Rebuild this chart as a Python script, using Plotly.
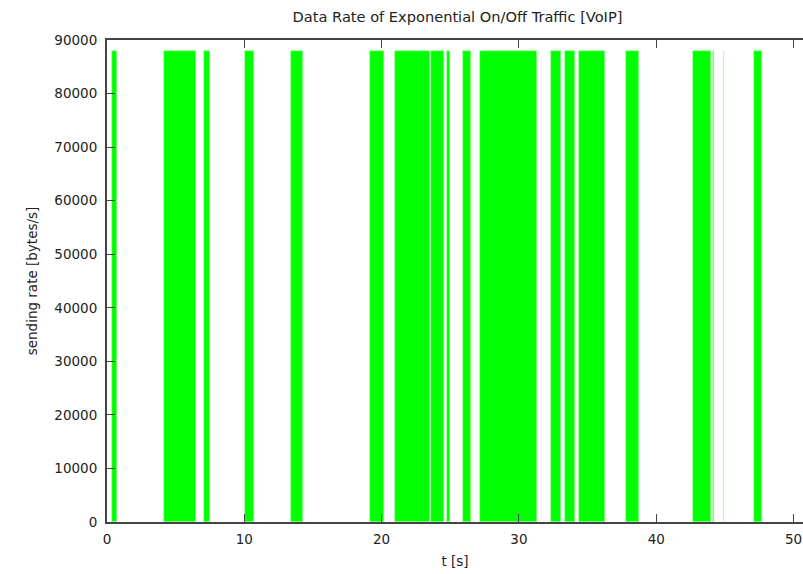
import plotly.graph_objects as go

# On-periods of the traffic source (seconds)
on_start = [0.34, 4.17, 7.09, 10.05, 13.42, 19.18, 21.0, 23.6, 24.78, 25.93,
            27.17, 32.32, 33.33, 34.35, 37.8, 42.7, 44.15, 44.93, 47.15]
on_end = [0.75, 6.48, 7.52, 10.71, 14.25, 20.19, 23.52, 24.52, 24.98, 26.48,
          31.35, 33.04, 34.06, 36.24, 38.77, 43.99, 44.18, 44.96, 47.73]
rate_on = 88000  # bytes/s

x_ticks = [0, 10, 20, 30, 40, 50]
y_ticks = [0, 10000, 20000, 30000, 40000, 50000, 60000, 70000, 80000, 90000]

centers = [(s + e) / 2 for s, e in zip(on_start, on_end)]
widths = [e - s for s, e in zip(on_start, on_end)]

fig = go.Figure()
fig.add_trace(go.Bar(
    x=centers, y=[rate_on] * len(centers), width=widths,
    marker=dict(color="#00ff00", line=dict(width=0.6, color="#9dff9d")),
    showlegend=False,
))

axis_color = "#444444"
fam = "DejaVu Sans, Liberation Sans, sans-serif"
txt = "#222222"
font = dict(family=fam, size=13.5, color=txt)

fig.update_layout(
    width=803, height=574,
    margin=dict(l=107, r=0, t=40, b=52),
    paper_bgcolor="white", plot_bgcolor="white",
    font=font,
    bargap=0,
    title=dict(text="Data Rate of Exponential On/Off Traffic [VoIP]",
               x=457.5 / 803, xanchor="center", y=1 - 17 / 574, yanchor="middle",
               font=dict(family=fam, size=14.6, color=txt)),
    xaxis=dict(range=[0, 50.69], tickvals=x_ticks, ticktext=[str(v) for v in x_ticks],
               ticks="inside", ticklen=8, ticklabelstandoff=4,
               tickcolor=axis_color, showline=True, linecolor=axis_color, linewidth=2,
               mirror="ticks", showgrid=False, zeroline=False,
               tickfont=dict(family=fam, size=13.5, color=txt),
               title=dict(text="t [s]", standoff=10,
                          font=dict(family=fam, size=13.5, color=txt))),
    yaxis=dict(range=[0, 90000], tickvals=y_ticks, ticktext=[str(v) for v in y_ticks],
               ticks="inside", ticklen=8,
               tickcolor=axis_color, showline=True, linecolor=axis_color, linewidth=2,
               showgrid=False, zeroline=False, ticklabelstandoff=5,
               tickfont=dict(family=fam, size=13.5, color=txt),
               title=dict(text="sending rate [bytes/s]", standoff=14,
                          font=dict(family=fam, size=13.5, color=txt))),
)

fig.write_html("out.html")
